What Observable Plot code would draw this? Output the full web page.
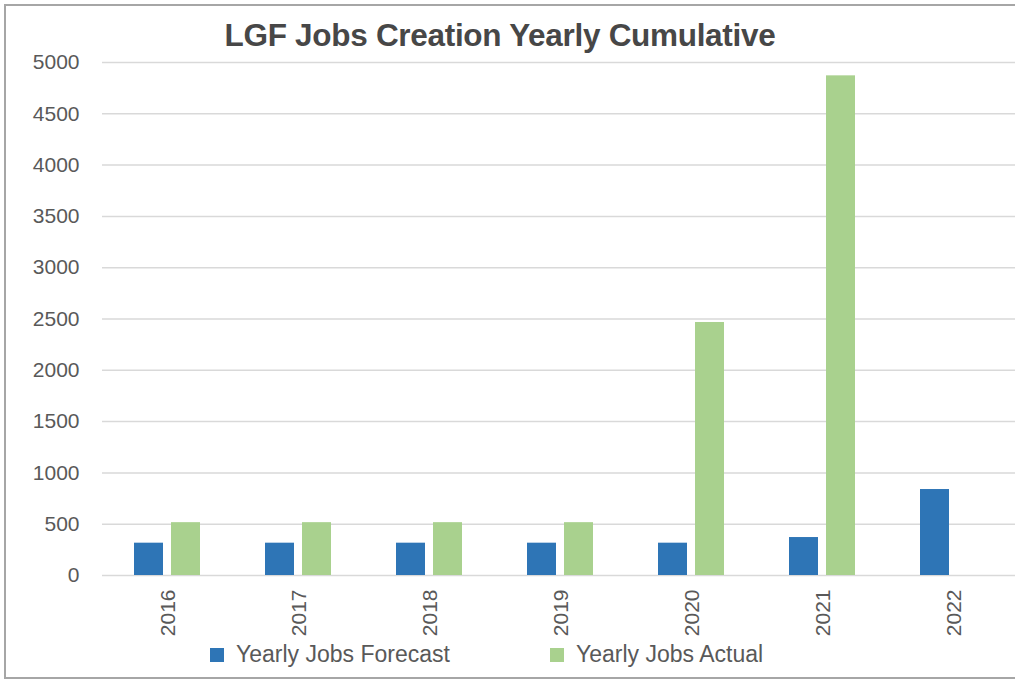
<!DOCTYPE html>
<html>
<head>
<meta charset="utf-8">
<script src="https://cdn.jsdelivr.net/npm/d3@7"></script>
<script src="https://cdn.jsdelivr.net/npm/@observablehq/plot@0.6"></script>
<style>
  html, body { margin: 0; padding: 0; background: #fff; }
  body { width: 1015px; height: 681px; position: relative; overflow: hidden; font-family: "Liberation Sans", Arial, sans-serif; }
  #frame { position: absolute; left: 4px; top: 4px; width: 1030px; height: 671px; border: 2px solid #a6a6a6; }
  #title { position: absolute; left: 0; width: 1000px; top: 17px; text-align: center; font-size: 31.5px; font-weight: bold; color: #474747; letter-spacing: -0.3px; }
  #chart { position: absolute; left: 0; top: 50px; width: 1030px; }
  #chart svg { max-width: none !important; }
  #legend { position: absolute; top: 641px; left: 0; width: 1015px; }
  .item { position: absolute; display: flex; align-items: center; font-size: 23px; color: #595959; }
  .sw { width: 14px; height: 14px; margin-right: 12px; }
</style>
</head>
<body>
<div id="frame"></div>
<div id="title">LGF Jobs Creation Yearly Cumulative</div>
<div id="chart"></div>
<div id="legend"></div>
<script>
const years = ["2016", "2017", "2018", "2019", "2020", "2021", "2022"];
const seriesNames = ["Yearly Jobs Forecast", "Yearly Jobs Actual"];
const seriesColors = ["#2E75B6", "#A9D18E"];
const forecast = [315, 315, 315, 315, 315, 370, 838];
const actual = [515, 515, 515, 515, 2466, 4870, null];
const yTicks = [0, 500, 1000, 1500, 2000, 2500, 3000, 3500, 4000, 4500, 5000];

const data = [];
years.forEach((y, i) => {
  data.push({year: y, series: seriesNames[0], value: forecast[i]});
  if (actual[i] != null) data.push({year: y, series: seriesNames[1], value: actual[i]});
});

const chart = Plot.plot({
  width: 1030,
  height: 595,
  marginLeft: 99,
  marginRight: 9,
  marginTop: 12,
  marginBottom: 70,
  style: { fontFamily: "Liberation Sans, Arial, sans-serif", fontSize: "21px", color: "#595959", background: "transparent", overflow: "visible", maxWidth: "none" },
  fx: { domain: years, padding: 0, label: null, tickRotate: -90, tickSize: 0, tickPadding: 14, axis: "bottom" },
  x: { domain: seriesNames, paddingInner: 0.206, paddingOuter: 0.845, axis: null },
  y: { domain: [0, 5000], label: null, axis: null },
  color: { domain: seriesNames, range: seriesColors },
  marks: [
    Plot.gridY(yTicks, { stroke: "#d9d9d9", strokeOpacity: 1, strokeWidth: 1.5 }),
    Plot.axisY(yTicks, { tickSize: 0, tickPadding: 23, label: null, fill: "#595959", tickFormat: d3.format("d") }),
    Plot.barY(data, { fx: "year", x: "series", y: "value", fill: "series" })
  ]
});
document.getElementById("chart").appendChild(chart);

const legend = document.getElementById("legend");
const lefts = [210, 550];
seriesNames.forEach((name, i) => {
  const it = document.createElement("div");
  it.className = "item";
  it.style.left = lefts[i] + "px";
  const sw = document.createElement("div");
  sw.className = "sw";
  sw.style.background = seriesColors[i];
  const t = document.createElement("span");
  t.textContent = name;
  it.appendChild(sw);
  it.appendChild(t);
  legend.appendChild(it);
});
</script>
</body>
</html>
